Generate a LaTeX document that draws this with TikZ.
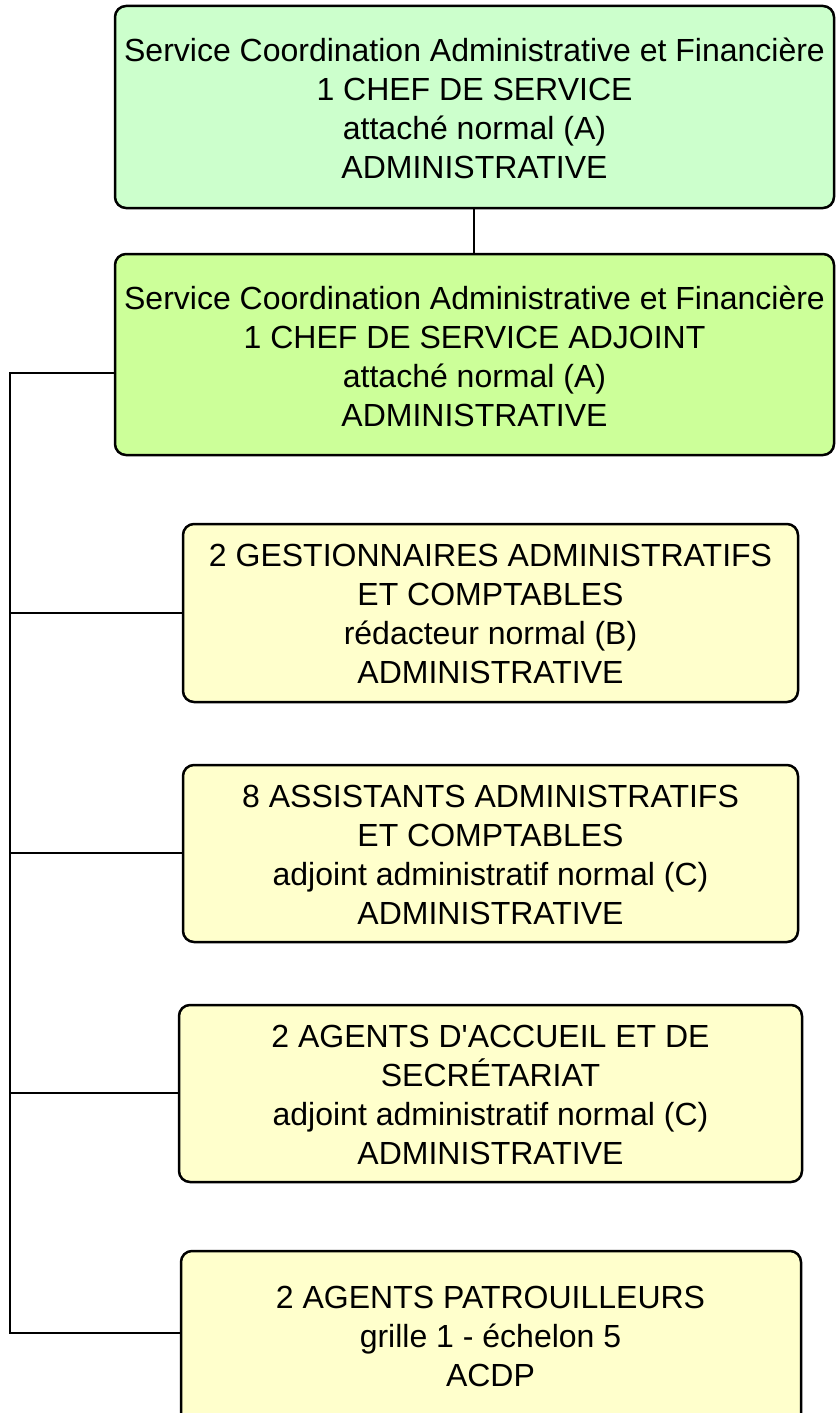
\documentclass[tikz,border=0pt]{standalone}
\usepackage{fontspec}
\setmainfont{Liberation Sans}
\definecolor{gA}{HTML}{CCFFCC}
\definecolor{gB}{HTML}{CCFF99}
\definecolor{yC}{HTML}{FFFFCC}
\begin{document}
\begin{tikzpicture}[x=1pt,y=-1pt,
  box/.style={draw=black, line width=2.5pt, rounded corners=11pt},
  lbl/.style={align=center, font=\fontsize{32}{39}\selectfont, inner sep=0pt},
  conn/.style={draw=black, line width=2.5pt}]
\useasboundingbox (0,0) rectangle (835,1413);
\begin{scope}
\clip (-5,-5) rectangle (840,1413);
\draw[box, fill=gA] (115,6) rectangle (834,208);
\node[lbl] (n1) at (474.5,108) {Service Coordination Administrative et Financière\\1 CHEF DE SERVICE\\attaché normal (A)\\ADMINISTRATIVE};
\draw[box, fill=gB] (115,254) rectangle (834,455);
\node[lbl] (n2) at (474.5,356) {Service Coordination Administrative et Financière\\1 CHEF DE SERVICE ADJOINT\\attaché normal (A)\\ADMINISTRATIVE};
\draw[box, fill=yC] (183,524) rectangle (798,702);
\node[lbl] (n3) at (490.5,614) {2 GESTIONNAIRES ADMINISTRATIFS\\ET COMPTABLES\\rédacteur normal (B)\\ADMINISTRATIVE};
\draw[box, fill=yC] (183,765) rectangle (798,942);
\node[lbl] (n4) at (490.5,855) {8 ASSISTANTS ADMINISTRATIFS\\ET COMPTABLES\\adjoint administratif normal (C)\\ADMINISTRATIVE};
\draw[box, fill=yC] (179,1005) rectangle (802,1182);
\node[lbl] (n5) at (490.5,1095) {2 AGENTS D\textquotesingle ACCUEIL ET DE\\SECRÉTARIAT\\adjoint administratif normal (C)\\ADMINISTRATIVE};
\draw[box, fill=yC] (181,1251) rectangle (801,1425);
\node[lbl] (n6) at (490.5,1336) {2 AGENTS PATROUILLEURS\\grille 1 - échelon 5\\ACDP};
\end{scope}
\coordinate (t1) at (474,208);
\coordinate (t2) at (474,254);
\draw[conn] (t1) -- (t2);
\coordinate (b2) at (116,373);
\coordinate (bus0) at (10,373);
\coordinate (b3) at (184,613);
\coordinate (b4) at (184,853);
\coordinate (b5) at (180,1093);
\coordinate (b6) at (182,1333);
\draw[conn] (b2) -- (bus0) -- (bus0 |- b6) -- (b6);
\draw[conn] (bus0 |- b3) -- (b3);
\draw[conn] (bus0 |- b4) -- (b4);
\draw[conn] (bus0 |- b5) -- (b5);
\end{tikzpicture}
\end{document}
